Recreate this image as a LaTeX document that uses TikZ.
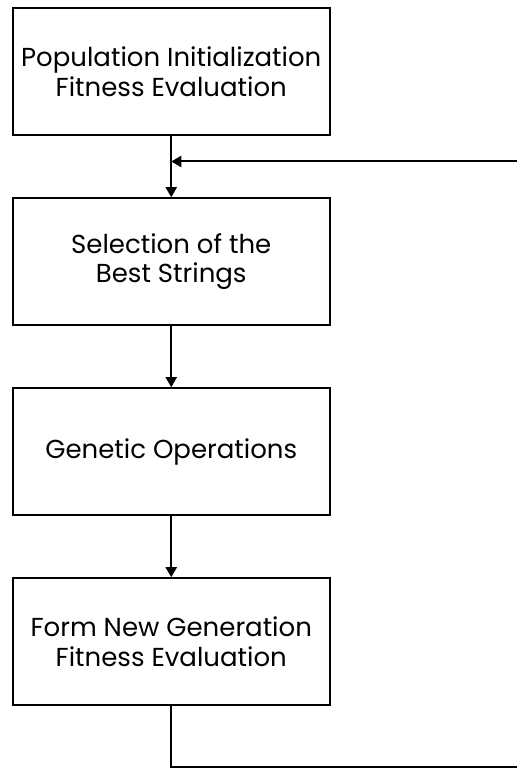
\documentclass[tikz,border=0pt]{standalone}
\usepackage{fontspec}
\setmainfont{Poppins}
\usetikzlibrary{arrows.meta}
\begin{document}
\begin{tikzpicture}[x=1pt,y=1pt,
  box/.style={draw, line width=2pt, minimum width=317pt, minimum height=126.5pt, align=center, inner sep=0pt, font=\fontsize{26}{29.5}\selectfont},
  conn/.style={line width=2pt},
  arr/.style={conn, -{Triangle[width=11pt,length=10pt]}}]
\useasboundingbox (0,0) rectangle (517,768);
\node[box] (b1) at (171.25,696.5) {Population Initialization\\Fitness Evaluation};
\node[box] (b2) at (171.25,506.5) {Selection of the\\Best Strings};
\node[box] (b3) at (171.25,316.5) {Genetic Operations};
\node[box] (b4) at (171.25,126.5) {Form New Generation\\Fitness Evaluation};
\coordinate (fb) at (517,606.5);
\coordinate (j) at (171.25,606.5);
\coordinate (bl) at (171.25,1);
\coordinate (br) at (517,1);
\draw[arr] (b1) -- (b2);
\draw[arr] (b2) -- (b3);
\draw[arr] (b3) -- (b4);
\draw[arr] (fb) -- (j);
\draw[conn] (b4) -- (bl) -- (br);
\end{tikzpicture}
\end{document}
